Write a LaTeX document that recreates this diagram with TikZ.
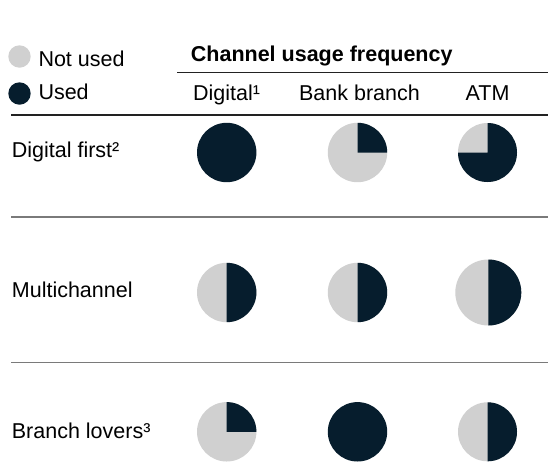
\documentclass[tikz,border=0pt]{standalone}
\usepackage{fontspec}
\setmainfont{Liberation Sans}
\definecolor{darkbl}{HTML}{061D2D}
\definecolor{lightgr}{HTML}{D0D0D0}
\definecolor{rulegr}{HTML}{7A7A7A}
\definecolor{ruledk}{HTML}{222222}
\newcommand\myfont{\fontsize{21.5}{25}\selectfont}
\newcommand\pieq[4]{% center, radius, start, end of dark slice
  \fill[lightgr] (#1) circle (#2pt);
  \fill[darkbl] (#1) -- ++(#3:#2pt) arc[start angle=#3, end angle=#4, radius=#2pt] -- cycle;}
\newcommand\piefull[2]{\fill[darkbl] (#1) circle (#2pt);}
\begin{document}
\begin{tikzpicture}[x=1pt,y=1pt,
  lbl/.style={inner sep=0pt, anchor=base west, font=\myfont},
  hdr/.style={inner sep=0pt, anchor=base, font=\myfont},
  ttl/.style={inner sep=0pt, anchor=base west, font=\myfont\bfseries},
  darkrule/.style={draw=ruledk, line width=1.4pt},
  grayrule/.style={draw=rulegr, line width=1.6pt}]
\useasboundingbox[fill=white] (0,0) rectangle (548,-464);
% legend
\fill[lightgr] (19.5,-56.5) circle (11.2pt);
\fill[darkbl] (19.5,-93.5) circle (11.2pt);
\node[lbl] (notused) at (38.3,-66.5) {Not used};
\node[lbl] (used) at (38.3,-99) {Used};
% title and headers
\node[ttl] (title) at (190.7,-61.7) {Channel usage frequency};
\coordinate (t1) at (177,-72.3); \coordinate (t2) at (548,-72.3);
\draw[darkrule] (t1) -- (t2);
\node[hdr] (hdig) at (226.5,-100.5) {Digital¹};
\node[hdr] (hbank) at (359.5,-100.5) {Bank branch};
\node[hdr] (hatm) at (487.5,-100.5) {ATM};
\coordinate (h1) at (11,-115); \coordinate (h2) at (548,-115);
\draw[darkrule] (h1) -- (h2);
% row labels
\node[lbl] (r1) at (11.7,-157) {Digital first²};
\node[lbl] (r2) at (11.7,-297.7) {Multichannel};
\node[lbl] (r3) at (11.7,-438.3) {Branch lovers³};
\coordinate (s1a) at (11,-216.7); \coordinate (s1b) at (548,-216.7);
\coordinate (s2a) at (11,-362.5); \coordinate (s2b) at (548,-362.5);
\draw[grayrule] (s1a) -- (s1b);
\draw[grayrule] (s2a) -- (s2b);
% pies row 1
\coordinate (p11) at (226.7,-152.5);
\coordinate (p12) at (357.5,-152.5);
\coordinate (p13) at (487.5,-152.5);
\piefull{p11}{29.7}
\pieq{p12}{29.7}{0}{90}
\pieq{p13}{29.5}{90}{-180}
% pies row 2
\coordinate (p21) at (226.7,-292.5);
\coordinate (p22) at (357.5,-292.5);
\coordinate (p23) at (488.3,-292.5);
\pieq{p21}{29.7}{-90}{90}
\pieq{p22}{29.7}{-90}{90}
\pieq{p23}{33}{-90}{90}
% pies row 3
\coordinate (p31) at (226.7,-431.8);
\coordinate (p32) at (357.5,-431.8);
\coordinate (p33) at (487.5,-431.8);
\pieq{p31}{29.7}{0}{90}
\piefull{p32}{29.7}
\pieq{p33}{29.5}{-90}{90}
\end{tikzpicture}
\end{document}
